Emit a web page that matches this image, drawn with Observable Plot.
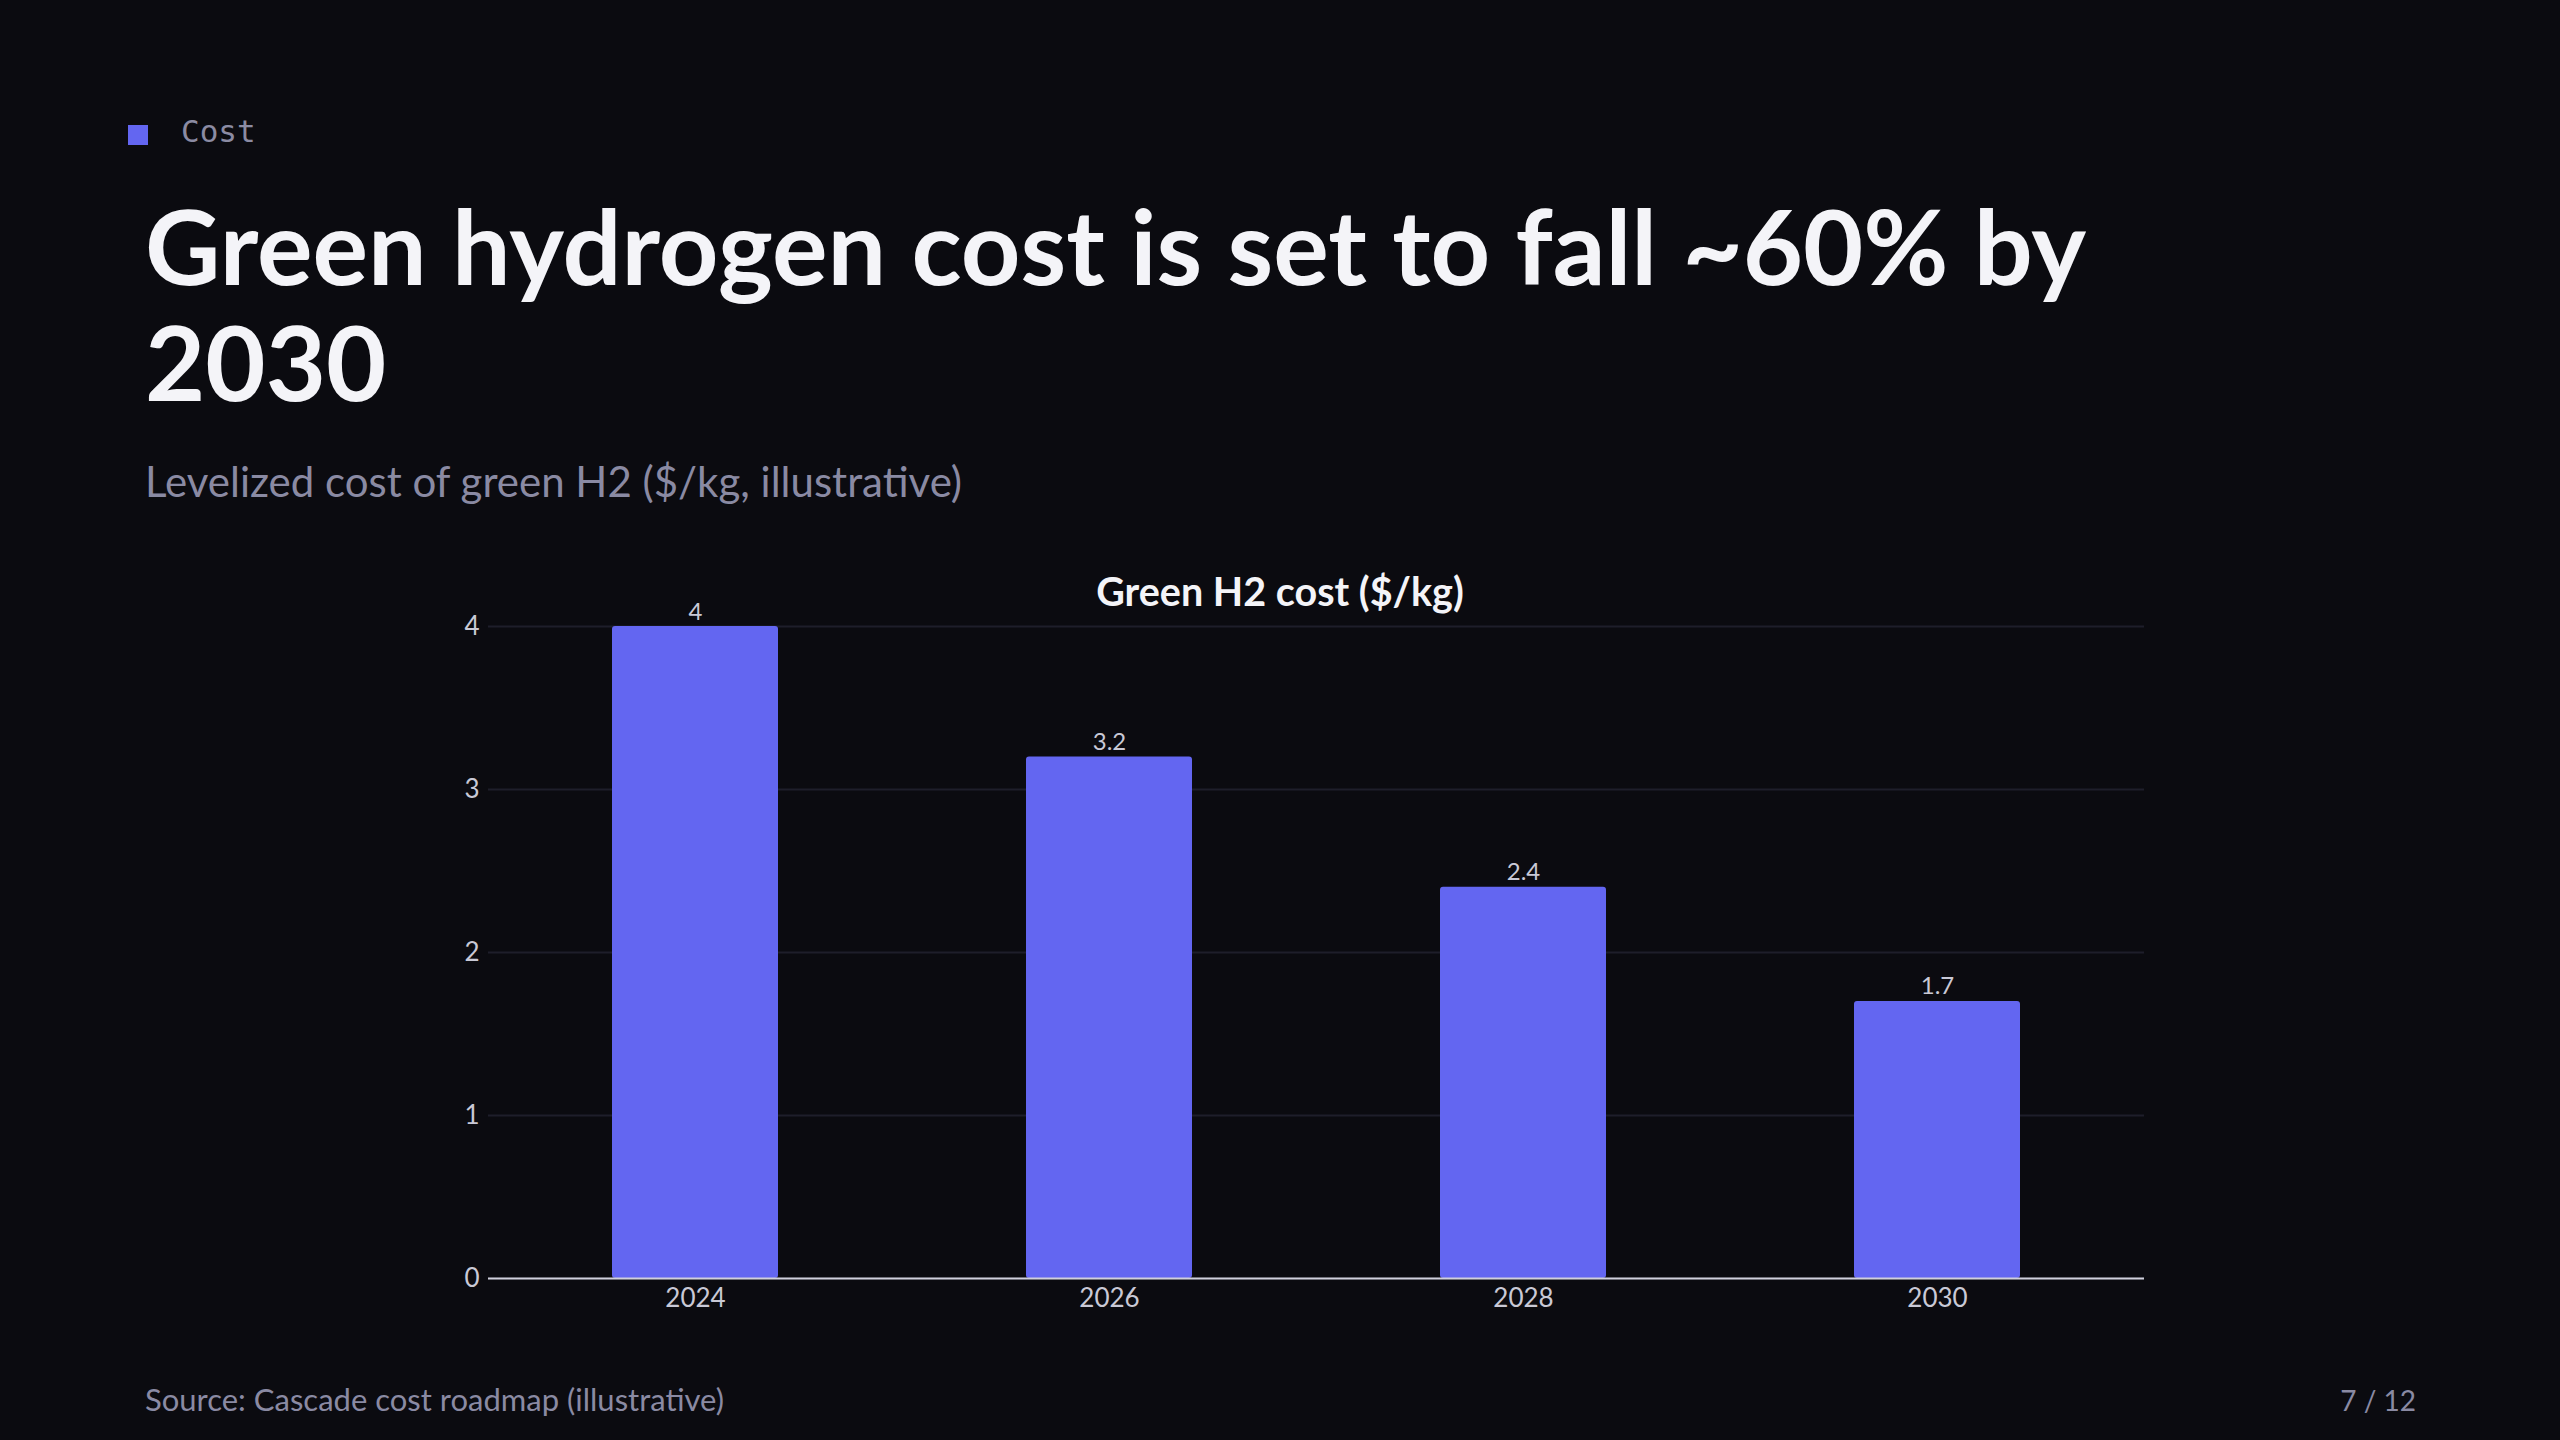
<!DOCTYPE html>
<html>
<head>
<meta charset="utf-8">
<script src="https://cdn.jsdelivr.net/npm/d3@7"></script>
<script src="https://cdn.jsdelivr.net/npm/@observablehq/plot@0.6"></script>
<style>
  html, body { margin: 0; padding: 0; background: #0b0b10; }
  #page { position: relative; width: 2560px; height: 1440px; background: #0b0b10; overflow: hidden; font-family: Lato, "Noto Sans", sans-serif; }
  .abs { position: absolute; white-space: nowrap; }
  #tagbox { left: 128px; top: 125px; width: 20px; height: 20px; background: #6366f1; }
  #tag { left: 181px; top: 113px; font-family: "DejaVu Sans Mono", monospace; font-size: 31px; line-height: 36px; color: #8b8ba3; }
  #title { left: 145px; top: 187px; width: 2100px; white-space: normal; font-weight: 700; font-size: 104px; line-height: 116px; color: #f4f4f8; }
  #subtitle { left: 145px; top: 457px; font-size: 42px; line-height: 48px; color: #8a8aa3; }
  #charttitle { left: 145px; top: 568px; width: 2270px; text-align: center; font-weight: 700; font-size: 39.5px; line-height: 46px; color: #f4f4f8; }
  #chart { left: 145px; top: 570px; }
  #source { left: 145px; top: 1381px; font-size: 31px; line-height: 36px; color: #8a8aa3; }
  #pager { right: 144px; top: 1383px; font-size: 28px; line-height: 34px; color: #8a8aa3; }
</style>
</head>
<body>
<div id="page">
  <div class="abs" id="tagbox"></div>
  <div class="abs" id="tag">Cost</div>
  <div class="abs" id="title">Green hydrogen cost is set to fall ~60% by 2030</div>
  <div class="abs" id="subtitle">Levelized cost of green H2 ($/kg, illustrative)</div>
  <div class="abs" id="chart"></div>
  <div class="abs" id="charttitle">Green H2 cost ($/kg)</div>
  <div class="abs" id="source">Source: Cascade cost roadmap (illustrative)</div>
  <div class="abs" id="pager">7 / 12</div>
</div>
<script>
const years = ["2024", "2026", "2028", "2030"];
const costs = [4, 3.2, 2.4, 1.7];
const yTicks = [0, 1, 2, 3, 4];

const data = years.map((year, i) => ({year, cost: costs[i]}));

const chart = Plot.plot({
  width: 2270,
  height: 770,
  marginLeft: 343,
  marginRight: 271,
  marginTop: 56,
  marginBottom: 62,
  style: {background: "transparent", color: "#c9c9d6", fontFamily: "Lato, 'Noto Sans', sans-serif", fontSize: "26px", overflow: "visible"},
  x: {domain: years, paddingInner: 0.6, paddingOuter: 0.3, label: null},
  y: {domain: [0, 4], label: null},
  marks: [
    Plot.gridY(yTicks, {stroke: "#1e1e2a", strokeOpacity: 1, strokeWidth: 2}),
    Plot.axisY(yTicks, {tickSize: 0, tickPadding: 9, label: null, fontSize: 26, tickFormat: d => String(d)}),
    Plot.axisX({tickSize: 0, tickPadding: 10, label: null, fontSize: 26}),
    Plot.barY(data, {x: "year", y: "cost", fill: "#6366f1", rx: 3}),
    Plot.ruleY([0], {stroke: "#d0d0dc", strokeWidth: 2}),
    Plot.text(data, {x: "year", y: "cost", text: d => String(d.cost), dy: -7, lineAnchor: "bottom", fill: "#c9c9d6", fontSize: 24})
  ]
});
document.getElementById("chart").appendChild(chart);
</script>
</body>
</html>
